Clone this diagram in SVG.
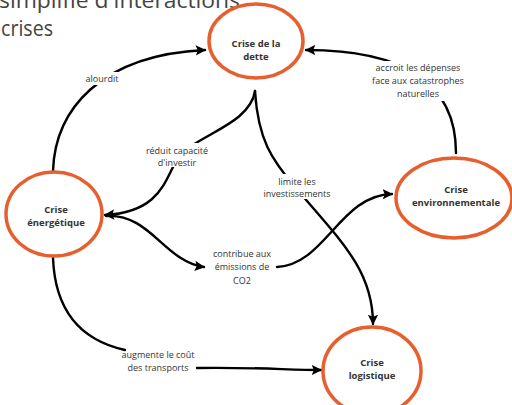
<svg xmlns="http://www.w3.org/2000/svg" width="512" height="405" viewBox="0 0 512 405">
<style>
.node ellipse{fill:#fff;stroke:#E5602E;stroke-width:3.5}
.nt{font-family:"Open Sans","Liberation Sans",sans-serif;font-size:9.5px;font-weight:bold;fill:#333;text-anchor:middle}
.lbl{font-family:"Open Sans","Liberation Sans",sans-serif;font-size:9px;fill:#333;text-anchor:middle}
.edge{fill:none;stroke:#000;stroke-width:2.4;stroke-linecap:round}
.title{font-family:"Open Sans","Liberation Sans",sans-serif;font-size:21px;fill:#444}
</style>
<defs>
<marker id="ah" viewBox="0 0 10 10" refX="9" refY="5" markerWidth="4.3" markerHeight="4.3" orient="auto" markerUnits="strokeWidth">
<path d="M0,0 L10,5 L0,10 L2,5 Z" fill="#000"/>
</marker>
</defs>
<rect width="512" height="405" fill="#fff"/>
<g id="title">
<text class="title" x="-1" y="8" textLength="241" lengthAdjust="spacingAndGlyphs">simplifie d'interactions</text>
<text class="title" x="1" y="36" textLength="52" lengthAdjust="spacingAndGlyphs">crises</text>
</g>
<g id="connectors">
<path class="edge" d="M53,171 C55,110 100,55 205,50" marker-end="url(#ah)"/>
<path class="edge" d="M456,153 C456,80 400,50 306,50" marker-end="url(#ah)"/>
<path class="edge" d="M255,91 C250,125 195,135 178,158 C165,178 162,212 105,215" marker-end="url(#ah)"/>
<path class="edge" d="M255,91 C258,140 272,160 295,187 C340,240 373,270 373,324" marker-end="url(#ah)"/>
<path class="edge" d="M106,216 C150,213 165,262 204,267" marker-end="url(#ah)"/>
<path class="edge" d="M277,267 C325,265 340,195 392,194" marker-end="url(#ah)"/>
<path class="edge" d="M53,258 C55,310 80,340 125,350"/>
<path class="edge" d="M197,368 C250,367 290,370 321,370" marker-end="url(#ah)"/>
</g>
<g id="edge-labels">
<rect x="80" y="72" width="44" height="13" fill="#fff"/>
<text class="lbl" x="102" y="82">alourdit</text>
<rect x="370" y="61" width="98" height="40" fill="#fff"/>
<text class="lbl" x="418" y="71">accroit les dépenses</text>
<text class="lbl" x="418" y="84">face aux catastrophes</text>
<text class="lbl" x="418" y="97">naturelles</text>
<rect x="142" y="143" width="70" height="24" fill="#fff"/>
<text class="lbl" x="177" y="154">réduit capacité</text>
<text class="lbl" x="177" y="166">d'investir</text>
<rect x="260" y="174" width="76" height="25" fill="#fff"/>
<text class="lbl" x="297" y="185">limite les</text>
<text class="lbl" x="297" y="197">investissements</text>
<text class="lbl" x="242" y="257">contribue aux</text>
<text class="lbl" x="242" y="270">émissions de</text>
<text class="lbl" x="242" y="284">CO2</text>
<text class="lbl" x="158" y="358">augmente le coût</text>
<text class="lbl" x="158" y="371">des transports</text>
</g>
<g id="node-dette" class="node">
<ellipse cx="256" cy="41" rx="47" ry="37"/>
<text class="nt" x="256" y="47">Crise de la</text>
<text class="nt" x="256" y="60">dette</text>
</g>
<g id="node-energetique" class="node">
<ellipse cx="54" cy="214" rx="48" ry="42"/>
<text class="nt" x="56" y="213">Crise</text>
<text class="nt" x="56" y="226">énergétique</text>
</g>
<g id="node-environnementale" class="node">
<ellipse cx="454" cy="198" rx="58" ry="40"/>
<text class="nt" x="456" y="193">Crise</text>
<text class="nt" x="456" y="206">environnementale</text>
</g>
<g id="node-logistique" class="node">
<ellipse cx="372" cy="371" rx="49" ry="44"/>
<text class="nt" x="372" y="366">Crise</text>
<text class="nt" x="372" y="379">logistique</text>
</g>
</svg>
